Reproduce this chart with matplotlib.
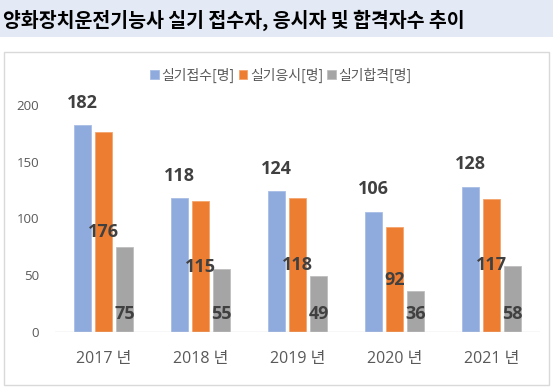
import matplotlib
matplotlib.use('Agg')
import matplotlib.pyplot as plt
from matplotlib.patches import Rectangle
import numpy as np

plt.rcParams['font.family'] = ['Noto Sans CJK KR', 'DejaVu Sans']
NUM_FONT = ['Open Sans', 'Noto Sans CJK KR', 'DejaVu Sans']

title = '양화장치운전기능사 실기 접수자, 응시자 및 합격자수 추이'
categories = ['2017 년', '2018 년', '2019 년', '2020 년', '2021 년']
series_names = ['실기접수[명]', '실기응시[명]', '실기합격[명]']
applied = [182, 118, 124, 106, 128]
taken = [176, 115, 118, 92, 117]
passed = [75, 55, 49, 36, 58]
colors = ['#8FAADC', '#ED7D31', '#A5A5A5']
edge_colors = ['#A9BDE5', '#F4A46E', '#BFBFBF']
yticks = [0, 50, 100, 150, 200]

W, H = 553, 392
fig = plt.figure(figsize=(W / 100, H / 100), dpi=100)

# title band
fig.patches.append(Rectangle((0, 1 - 37 / H), 1, 37 / H, transform=fig.transFigure,
                             facecolor='#E3EAF6', edgecolor='none', zorder=0))
fig.text(3 / W, 1 - 20 / H, title, fontsize=14, fontweight='bold',
         va='center', ha='left', color='black')
# chart border
fig.patches.append(Rectangle((3.5 / W, (H - 385) / H), (549 - 3.5) / W, (385 - 52.3) / H,
                             transform=fig.transFigure, facecolor='none',
                             edgecolor='#D9D9D9', lw=1, zorder=0))

ax = fig.add_axes([55 / W, (H - 331.7) / H, 485 / W, 226.7 / H])
x = np.arange(len(categories))
w = 0.178
step = 0.217
series = [applied, taken, passed]
for i, (vals, name) in enumerate(zip(series, series_names)):
    ax.bar(x + (i - 1) * step, vals, width=w, color=colors[i], edgecolor=edge_colors[i],
           linewidth=0.6, label=name, zorder=2)

lab_kw = dict(ha='center', va='center', fontsize=13, fontweight='bold', color='#404040',
              family=NUM_FONT, textcoords='offset points', annotation_clip=False, zorder=5)
for xi, v in zip(x - step, applied):
    ax.annotate(str(v), (xi, v), xytext=(0, 16), **lab_kw)
for xi, v in zip(x, taken):
    ax.annotate(str(v), (xi, v / 2), xytext=(0, 0), **lab_kw)
for xi, v in zip(x + step, passed):
    ax.annotate(str(v), (xi, 0), xytext=(0, 12.5), **lab_kw)

ax.set_xlim(-0.5, len(categories) - 0.5)
ax.set_ylim(0, 200)
ax.set_yticks(yticks)
ax.set_yticklabels([str(t) for t in yticks], family=NUM_FONT)
ax.set_xticks(x)
ax.set_xticklabels(categories, family=NUM_FONT)
for s in ax.spines.values():
    s.set_visible(False)
ax.axhline(0, color='#D9D9D9', lw=1, zorder=3)
ax.tick_params(axis='y', length=0, pad=11.5, labelsize=9.5, labelcolor='#595959')
ax.tick_params(axis='x', length=0, pad=14, labelsize=11.5, labelcolor='#595959')
ax.set_facecolor('none')

fig.legend(loc='center', bbox_to_anchor=(281 / W, 1 - 75 / H), ncol=3, frameon=False,
           fontsize=10, labelcolor='#595959', handlelength=0.6, handleheight=0.6,
           handletextpad=0.2, columnspacing=0.3, borderpad=0)

fig.savefig('out.png', dpi=100)
